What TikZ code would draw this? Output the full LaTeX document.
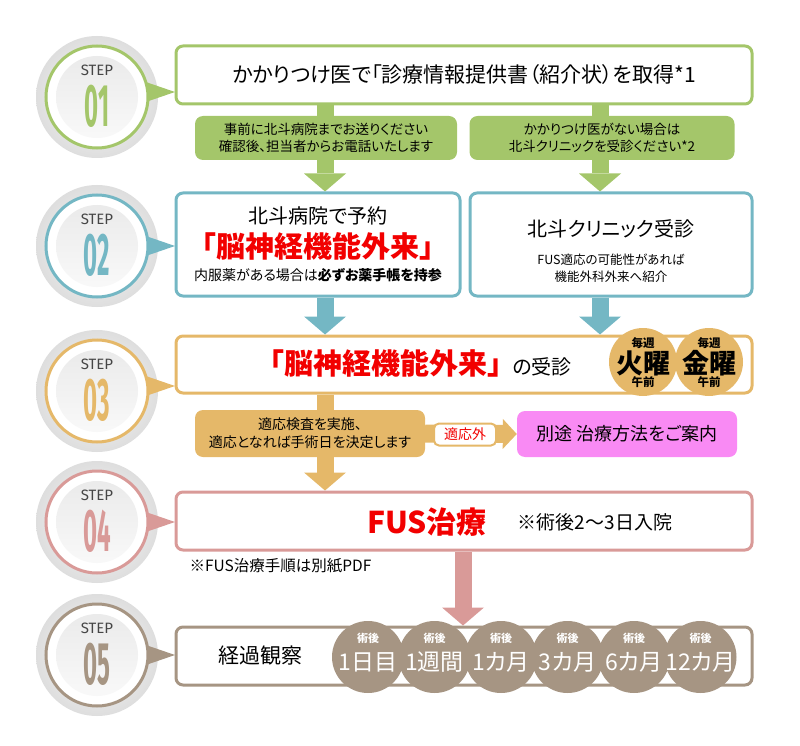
\documentclass[tikz,border=0pt]{standalone}
\usepackage{fontspec}
\setmainfont[RawFeature=+palt]{Noto Sans CJK JP}
\newfontfamily\numfont{Fira Sans}
\usetikzlibrary{arrows.meta, positioning, backgrounds}

\definecolor{stgreen}{HTML}{A4C66A}
\definecolor{stteal}{HTML}{74B7C4}
\definecolor{storange}{HTML}{E5B869}
\definecolor{strose}{HTML}{D99A98}
\definecolor{stbrown}{HTML}{A69583}
\definecolor{stpink}{HTML}{F98AF4}
\definecolor{stred}{HTML}{F20000}

\newcommand{\fsz}[2]{\fontsize{#1}{#2}\selectfont}

\begin{document}
\begin{tikzpicture}[x=1pt, y=-1pt,
    stepbox/.style={draw=#1, line width=3pt, rounded corners=7pt, fill=white,
                    minimum width=576pt, minimum height=58pt, inner sep=0pt},
    subbox/.style={fill=#1, rounded corners=8pt, inner sep=0pt, align=center},
    flow/.style={draw=#1, line width=17pt,
                 -{Triangle[length=18pt, width=42pt, line width=0pt]}},
    dot/.style={circle, fill=#1, minimum size=68pt, inner sep=0pt},
    redtitle/.style={text=stred, font=\fsz{29}{32}\bfseries}
  ]
  \useasboundingbox (0,0) rectangle (800,746);

  \coordinate (lane1) at (325,0);
  \coordinate (lane2) at (600,0);
  \coordinate (lane3) at (463,0);

  % Step markers
  \foreach \sn/\cy/\col/\ty in {01/97/stgreen/92, 02/246/stteal/246,
                                03/391/storange/386, 04/522/strose/522,
                                05/655/stbrown/655}{
    \shade[inner color=gray!4, outer color=gray!26] (97,\cy) circle[radius=61pt];
    \fill[\col] (140,\ty-12) -- (175,\ty) -- (140,\ty+12) -- cycle;
    \draw[\col, line width=3pt, fill=white] (97,\cy) circle[radius=51pt];
    \shade[top color=gray!16, bottom color=gray!5] (97,\cy) circle[radius=41pt];
    \node[text=gray!55!black, font=\numfont\fsz{15}{15}, inner sep=0pt]
      at (97,\cy-27) {STEP};
    \node[text=\col, font=\numfont\bfseries\fsz{60}{60}, inner sep=0pt]
      at (97,\cy+9) {\scalebox{0.4}[1]{\sn}};
  }

  % Step 1
  \node[stepbox=stgreen, font=\fsz{21}{24}] (ref) at (464,75)
    {かかりつけ医で「診療情報提供書（紹介状）を取得*1};
  \node[subbox=stgreen, minimum width=262pt, minimum height=44pt,
        font=\fsz{13.5}{17}] (send) at (326,138)
    {事前に北斗病院までお送りください\\確認後、担当者からお電話いたします};
  \node[subbox=stgreen, minimum width=265pt, minimum height=44pt,
        font=\fsz{13.5}{17}] (noref) at (602,138)
    {かかりつけ医がない場合は\\北斗クリニックを受診ください*2};

  % Step 2
  \node[stepbox=stteal, minimum width=284pt, minimum height=103pt] (book) at (318,244.5) {};
  \node[font=\fsz{20}{24}] (booktxt) at (318,216) {北斗病院で予約};
  \node[redtitle] (dept1) at (318,246) {「脳神経機能外来」};
  \node[font=\fsz{14}{16}] (memo) at (318,275) {内服薬がある場合は\textbf{必ずお薬手帳を持参}};
  \node[stepbox=stteal, minimum width=282pt, minimum height=103pt] (clinic) at (611,244.5) {};
  \node[font=\fsz{20}{24}] (clinictxt) at (611,229) {北斗クリニック受診};
  \node[font=\fsz{12.5}{17}, align=center] (intro) at (611,268)
    {FUS適応の可能性があれば\\機能外科外来へ紹介};

  % Step 3
  \node[stepbox=storange, minimum height=57pt] (visit) at (464,364.5) {};
  \node[redtitle, inner sep=0pt] (dept2) at (386,363) {「脳神経機能外来」};
  \node[font=\fsz{20}{24}, anchor=base west, inner sep=0pt] (visittxt)
    at ([xshift=10pt]dept2.base east) {の受診};
  \foreach \day/\x [count=\i] in {火曜/643, 金曜/709}{
    \node[dot=storange] (day\i) at (\x,362) {};
    \node[font=\fsz{11.5}{12}\bfseries] at (\x,343) {毎週};
    \node[font=\fsz{27}{28}\bfseries] at (\x,363) {\day};
    \node[font=\fsz{11.5}{12}\bfseries] at (\x,382) {午前};
  }

  \node[subbox=storange, minimum width=230pt, minimum height=47pt,
        font=\fsz{14}{18}] (exam) at (310,433.5)
    {適応検査を実施、\\適応となれば手術日を決定します};
  \node[subbox=stpink, minimum width=220pt, minimum height=46pt,
        font=\fsz{18}{20}] (other) at (627,434) {別途 治療方法をご案内};
  \draw[draw=storange, line width=18pt,
        -{Triangle[length=14pt, width=30pt, line width=0pt]}]
    (exam.east) -- (other.west);
  \node[draw=storange, line width=2pt, fill=white, rounded corners=5pt,
        text=stred, font=\fsz{14}{16}, minimum width=62pt, minimum height=22pt,
        inner sep=1pt] (notfit) at (465,434.5) {適応外};

  % Step 4
  \node[stepbox=strose] (fus) at (464,521) {};
  \node[text=stred, font=\fsz{30}{32}\bfseries] (fustxt) at (427,522) {FUS治療};
  \node[font=\fsz{19}{22}, right=24pt of fustxt] (stay) {※術後2〜3日入院};
  \node[font=\fsz{15.5}{18}, anchor=west] (pdf) at (186,566) {※FUS治療手順は別紙PDF};

  % Step 5
  \node[stepbox=stbrown] (follow) at (464,656) {};
  \node[font=\fsz{21}{24}] (obs) at (260,656) {経過観察};
  \foreach \lbl [count=\i from 0] in {1日目, 1週間, 1カ月, 3カ月, 6カ月, 12カ月}{
    \node[dot=stbrown, minimum size=72pt] (c\i) at (368+66.5*\i,657) {};
    \node[text=white, font=\fsz{11}{13}\bfseries] at (368+66.5*\i,638) {術後};
    \node[text=white, font=\fsz{23}{24}] at (368+66.5*\i,662) {\lbl};
  }

  % Arrows
  \begin{scope}[on background layer]
    \draw[flow=stgreen] (ref.south -| lane1) -- (book.north -| lane1);
    \draw[flow=stgreen] (ref.south -| lane2) -- (clinic.north -| lane2);
    \draw[flow=stteal] (book.south -| lane1) -- (visit.north -| lane1);
    \draw[flow=stteal] (clinic.south -| lane2) -- (visit.north -| lane2);
    \draw[flow=storange] (visit.south -| lane1) -- (fus.north -| lane1);
    \draw[flow=strose] (fus.south -| lane3) -- (follow.north -| lane3);
  \end{scope}

\end{tikzpicture}
\end{document}
